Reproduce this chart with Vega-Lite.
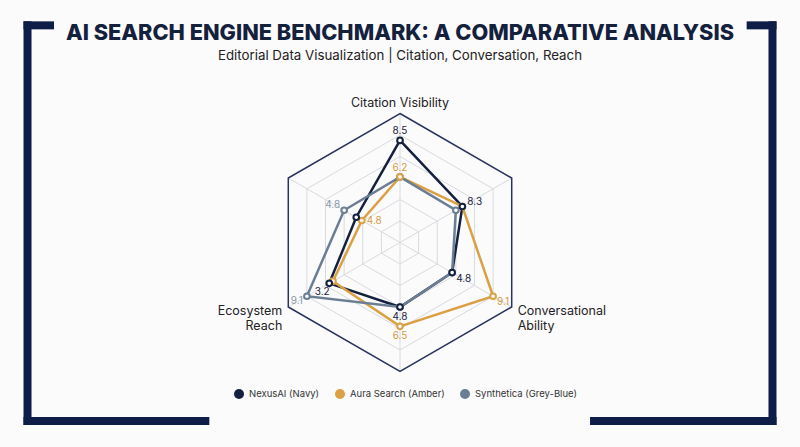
{
  "$schema": "https://vega.github.io/schema/vega-lite/v6.json",
  "width": 800,
  "height": 265,
  "autosize": {"type": "none"},
  "padding": {"top": 110, "bottom": 72, "left": 0, "right": 0},
  "background": "#fbfbfc",
  "title": {
    "text": "AI SEARCH ENGINE BENCHMARK: A COMPARATIVE ANALYSIS",
    "subtitle": "Editorial Data Visualization | Citation, Conversation, Reach",
    "anchor": "middle",
    "frame": "group",
    "font": "Inter",
    "fontSize": 21.75,
    "fontWeight": 800,
    "color": "#14213d",
    "subtitleFont": "Inter",
    "subtitleFontSize": 13.3,
    "subtitleColor": "#222222",
    "subtitlePadding": 5,
    "offset": -43
  },
  "datasets": {
    "scores": [
      {"series": "NexusAI (Navy)", "k": 0, "score": 9.5, "label": "8.5"},
      {"series": "NexusAI (Navy)", "k": 1, "score": 6.7, "label": "8.3"},
      {"series": "NexusAI (Navy)", "k": 2, "score": 5.6, "label": "4.8"},
      {"series": "NexusAI (Navy)", "k": 3, "score": 6.0, "label": "4.8"},
      {"series": "NexusAI (Navy)", "k": 4, "score": 7.6, "label": "3.2"},
      {"series": "NexusAI (Navy)", "k": 5, "score": 4.7, "label": null},
      {"series": "Aura Search (Amber)", "k": 0, "score": 6.1, "label": "6.2"},
      {"series": "Aura Search (Amber)", "k": 1, "score": 6.7, "label": null},
      {"series": "Aura Search (Amber)", "k": 2, "score": 10.0, "label": "9.1"},
      {"series": "Aura Search (Amber)", "k": 3, "score": 7.8, "label": "6.5"},
      {"series": "Aura Search (Amber)", "k": 4, "score": 7.2, "label": null},
      {"series": "Aura Search (Amber)", "k": 5, "score": 4.1, "label": "4.8"},
      {"series": "Synthetica (Grey-Blue)", "k": 0, "score": 6.1, "label": null},
      {"series": "Synthetica (Grey-Blue)", "k": 1, "score": 6.0, "label": null},
      {"series": "Synthetica (Grey-Blue)", "k": 2, "score": 5.6, "label": null},
      {"series": "Synthetica (Grey-Blue)", "k": 3, "score": 6.0, "label": null},
      {"series": "Synthetica (Grey-Blue)", "k": 4, "score": 10.0, "label": "9.1"},
      {"series": "Synthetica (Grey-Blue)", "k": 5, "score": 6.0, "label": "4.8"}
    ],
    "rings": [
      {"ring": 2, "k": [0, 1, 2, 3, 4, 5]},
      {"ring": 4, "k": [0, 1, 2, 3, 4, 5]},
      {"ring": 6, "k": [0, 1, 2, 3, 4, 5]},
      {"ring": 8, "k": [0, 1, 2, 3, 4, 5]},
      {"ring": 10, "k": [0, 1, 2, 3, 4, 5]},
      {"ring": 12, "k": [0, 1, 2, 3, 4, 5]}
    ],
    "spokes": [{"k": 0}, {"k": 1}, {"k": 2}, {"k": 3}, {"k": 4}, {"k": 5}],
    "axes": [
      {"k": 0, "name": "Citation Visibility"},
      {"k": 2, "name": ["Conversational", "Ability"]},
      {"k": 4, "name": ["Ecosystem", "Reach"]}
    ]
  },
  "layer": [
    {
      "data": {"name": "rings"},
      "transform": [
        {"flatten": ["k"]},
        {"filter": "datum.ring < 12"},
        {"calculate": "datum.ring * sin(datum.k * PI / 3)", "as": "x"},
        {"calculate": "datum.ring * cos(datum.k * PI / 3)", "as": "y"}
      ],
      "mark": {"type": "line", "interpolate": "linear-closed", "stroke": "#d8dade", "strokeWidth": 1},
      "encoding": {
        "x": {"field": "x", "type": "quantitative", "scale": {"domain": [-37.21, 37.21], "nice": false, "zero": false}, "axis": null},
        "y": {"field": "y", "type": "quantitative", "scale": {"domain": [-12.326, 12.326], "nice": false, "zero": false}, "axis": null},
        "detail": {"field": "ring"},
        "order": {"field": "k"}
      }
    },
    {
      "data": {"name": "spokes"},
      "transform": [
        {"calculate": "12 * sin(datum.k * PI / 3)", "as": "x"},
        {"calculate": "12 * cos(datum.k * PI / 3)", "as": "y"}
      ],
      "mark": {"type": "rule", "stroke": "#d8dade", "strokeWidth": 1},
      "encoding": {
        "x": {"field": "x", "type": "quantitative", "scale": {"domain": [-37.21, 37.21], "nice": false, "zero": false}, "axis": null},
        "y": {"field": "y", "type": "quantitative", "scale": {"domain": [-12.326, 12.326], "nice": false, "zero": false}, "axis": null},
        "x2": {"datum": 0},
        "y2": {"datum": 0}
      }
    },
    {
      "data": {"name": "rings"},
      "transform": [
        {"flatten": ["k"]},
        {"filter": "datum.ring == 12"},
        {"calculate": "datum.ring * sin(datum.k * PI / 3)", "as": "x"},
        {"calculate": "datum.ring * cos(datum.k * PI / 3)", "as": "y"}
      ],
      "mark": {"type": "line", "interpolate": "linear-closed", "stroke": "#2a335e", "strokeWidth": 1.5},
      "encoding": {
        "x": {"field": "x", "type": "quantitative", "scale": {"domain": [-37.21, 37.21], "nice": false, "zero": false}, "axis": null},
        "y": {"field": "y", "type": "quantitative", "scale": {"domain": [-12.326, 12.326], "nice": false, "zero": false}, "axis": null},
        "detail": {"field": "ring"},
        "order": {"field": "k"}
      }
    },
    {
      "data": {"name": "axes"},
      "transform": [
        {"filter": "datum.k == 0"},
        {"calculate": "12 * sin(datum.k * PI / 3)", "as": "x"},
        {"calculate": "12 * cos(datum.k * PI / 3)", "as": "y"}
      ],
      "mark": {"type": "text", "align": "center", "baseline": "alphabetic", "dy": -7, "font": "Inter", "fontSize": 12.5, "fill": "#222222"},
      "encoding": {
        "x": {"field": "x", "type": "quantitative", "scale": {"domain": [-37.21, 37.21], "nice": false, "zero": false}, "axis": null},
        "y": {"field": "y", "type": "quantitative", "scale": {"domain": [-12.326, 12.326], "nice": false, "zero": false}, "axis": null},
        "text": {"field": "name"}
      }
    },
    {
      "data": {"name": "axes"},
      "transform": [
        {"filter": "datum.k == 2"},
        {"calculate": "12 * sin(datum.k * PI / 3)", "as": "x"},
        {"calculate": "12 * cos(datum.k * PI / 3)", "as": "y"}
      ],
      "mark": {"type": "text", "align": "left", "baseline": "top", "dx": 6, "dy": -2, "lineHeight": 15, "font": "Inter", "fontSize": 12.5, "fill": "#222222"},
      "encoding": {
        "x": {"field": "x", "type": "quantitative", "scale": {"domain": [-37.21, 37.21], "nice": false, "zero": false}, "axis": null},
        "y": {"field": "y", "type": "quantitative", "scale": {"domain": [-12.326, 12.326], "nice": false, "zero": false}, "axis": null},
        "text": {"field": "name"}
      }
    },
    {
      "data": {"name": "axes"},
      "transform": [
        {"filter": "datum.k == 4"},
        {"calculate": "12 * sin(datum.k * PI / 3)", "as": "x"},
        {"calculate": "12 * cos(datum.k * PI / 3)", "as": "y"}
      ],
      "mark": {"type": "text", "align": "right", "baseline": "top", "dx": -6, "dy": -2, "lineHeight": 15, "font": "Inter", "fontSize": 12.5, "fill": "#222222"},
      "encoding": {
        "x": {"field": "x", "type": "quantitative", "scale": {"domain": [-37.21, 37.21], "nice": false, "zero": false}, "axis": null},
        "y": {"field": "y", "type": "quantitative", "scale": {"domain": [-12.326, 12.326], "nice": false, "zero": false}, "axis": null},
        "text": {"field": "name"}
      }
    },
    {
      "data": {"values": [{}]},
      "mark": {"type": "rule", "stroke": "#0e1c48", "strokeWidth": 8, "strokeCap": "square"},
      "encoding": {
        "x": {"datum": -34.65, "type": "quantitative", "scale": {"domain": [-37.21, 37.21], "nice": false, "zero": false}, "axis": null},
        "x2": {"datum": -32.56},
        "y": {"datum": 20.2, "type": "quantitative", "scale": {"domain": [-12.326, 12.326], "nice": false, "zero": false}, "axis": null},
        "y2": {"datum": 20.2}
      }
    },
    {
      "data": {"values": [{}]},
      "mark": {"type": "rule", "stroke": "#0e1c48", "strokeWidth": 8, "strokeCap": "square"},
      "encoding": {
        "x": {"datum": -34.65, "type": "quantitative", "scale": {"domain": [-37.21, 37.21], "nice": false, "zero": false}, "axis": null},
        "x2": {"datum": -34.65},
        "y": {"datum": 20.2, "type": "quantitative", "scale": {"domain": [-12.326, 12.326], "nice": false, "zero": false}, "axis": null},
        "y2": {"datum": -16.6}
      }
    },
    {
      "data": {"values": [{}]},
      "mark": {"type": "rule", "stroke": "#0e1c48", "strokeWidth": 8, "strokeCap": "square"},
      "encoding": {
        "x": {"datum": -34.65, "type": "quantitative", "scale": {"domain": [-37.21, 37.21], "nice": false, "zero": false}, "axis": null},
        "x2": {"datum": -18.11},
        "y": {"datum": -16.6, "type": "quantitative", "scale": {"domain": [-12.326, 12.326], "nice": false, "zero": false}, "axis": null},
        "y2": {"datum": -16.6}
      }
    },
    {
      "data": {"values": [{}]},
      "mark": {"type": "rule", "stroke": "#0e1c48", "strokeWidth": 8, "strokeCap": "square"},
      "encoding": {
        "x": {"datum": 32.62, "type": "quantitative", "scale": {"domain": [-37.21, 37.21], "nice": false, "zero": false}, "axis": null},
        "x2": {"datum": 34.65},
        "y": {"datum": 20.2, "type": "quantitative", "scale": {"domain": [-12.326, 12.326], "nice": false, "zero": false}, "axis": null},
        "y2": {"datum": 20.2}
      }
    },
    {
      "data": {"values": [{}]},
      "mark": {"type": "rule", "stroke": "#0e1c48", "strokeWidth": 8, "strokeCap": "square"},
      "encoding": {
        "x": {"datum": 34.65, "type": "quantitative", "scale": {"domain": [-37.21, 37.21], "nice": false, "zero": false}, "axis": null},
        "x2": {"datum": 34.65},
        "y": {"datum": 20.2, "type": "quantitative", "scale": {"domain": [-12.326, 12.326], "nice": false, "zero": false}, "axis": null},
        "y2": {"datum": -16.6}
      }
    },
    {
      "data": {"values": [{}]},
      "mark": {"type": "rule", "stroke": "#0e1c48", "strokeWidth": 8, "strokeCap": "square"},
      "encoding": {
        "x": {"datum": 18.05, "type": "quantitative", "scale": {"domain": [-37.21, 37.21], "nice": false, "zero": false}, "axis": null},
        "x2": {"datum": 34.65},
        "y": {"datum": -16.6, "type": "quantitative", "scale": {"domain": [-12.326, 12.326], "nice": false, "zero": false}, "axis": null},
        "y2": {"datum": -16.6}
      }
    },
    {
      "data": {"name": "scores"},
      "transform": [
        {"calculate": "datum.score * sin(datum.k * PI / 3)", "as": "x"},
        {"calculate": "datum.score * cos(datum.k * PI / 3)", "as": "y"}
      ],
      "mark": {"type": "line", "interpolate": "linear-closed", "strokeWidth": 2.5, "strokeJoin": "miter"},
      "encoding": {
        "x": {"field": "x", "type": "quantitative", "scale": {"domain": [-37.21, 37.21], "nice": false, "zero": false}, "axis": null},
        "y": {"field": "y", "type": "quantitative", "scale": {"domain": [-12.326, 12.326], "nice": false, "zero": false}, "axis": null},
        "order": {"field": "k"},
        "color": {
          "field": "series",
          "type": "nominal",
          "scale": {
            "domain": ["NexusAI (Navy)", "Aura Search (Amber)", "Synthetica (Grey-Blue)"],
            "range": ["#13203f", "#dca044", "#6b7e94"]
          },
          "legend": {
            "orient": "none",
            "legendX": 234,
            "legendY": 279,
            "direction": "horizontal",
            "title": null,
            "symbolType": "circle",
            "symbolSize": 100,
            "symbolStrokeWidth": 0,
            "labelFont": "Inter",
            "labelFontSize": 9.5,
            "labelColor": "#333333",
            "labelOffset": 5,
            "columnPadding": 15,
            "encode": {
              "symbols": {
                "update": {
                  "fill": {"scale": "color", "field": "value"},
                  "fillOpacity": {"value": 1},
                  "strokeWidth": {"value": 0}
                }
              }
            }
          }
        }
      }
    },
    {
      "data": {"name": "scores"},
      "transform": [
        {"calculate": "datum.score * sin(datum.k * PI / 3)", "as": "x"},
        {"calculate": "datum.score * cos(datum.k * PI / 3)", "as": "y"},
        {"calculate": "datum.series == 'NexusAI (Navy)' ? 2 : (datum.series == 'Aura Search (Amber)' ? 1 : 0)", "as": "z"}
      ],
      "mark": {"type": "point", "shape": "circle", "filled": true, "fill": "#ffffff", "size": 32, "strokeWidth": 2, "opacity": 1},
      "encoding": {
        "x": {"field": "x", "type": "quantitative", "scale": {"domain": [-37.21, 37.21], "nice": false, "zero": false}, "axis": null},
        "y": {"field": "y", "type": "quantitative", "scale": {"domain": [-12.326, 12.326], "nice": false, "zero": false}, "axis": null},
        "order": {"field": "z"},
        "stroke": {
          "field": "series",
          "type": "nominal",
          "scale": {
            "domain": ["NexusAI (Navy)", "Aura Search (Amber)", "Synthetica (Grey-Blue)"],
            "range": ["#13203f", "#dca044", "#6b7e94"]
          },
          "legend": null
        }
      }
    },
    {
      "data": {"name": "scores"},
      "transform": [
        {"filter": "datum.label != null && datum.k == 0"},
        {"calculate": "datum.score * sin(datum.k * PI / 3)", "as": "x"},
        {"calculate": "datum.score * cos(datum.k * PI / 3)", "as": "y"}
      ],
      "mark": {"type": "text", "align": "center", "baseline": "middle", "dy": -9, "font": "Inter", "fontSize": 10},
      "encoding": {
        "x": {"field": "x", "type": "quantitative", "scale": {"domain": [-37.21, 37.21], "nice": false, "zero": false}, "axis": null},
        "y": {"field": "y", "type": "quantitative", "scale": {"domain": [-12.326, 12.326], "nice": false, "zero": false}, "axis": null},
        "text": {"field": "label"},
        "fill": {"field": "series", "type": "nominal", "scale": {"domain": ["NexusAI (Navy)", "Aura Search (Amber)", "Synthetica (Grey-Blue)"], "range": ["#1a2340", "#d49b3f", "#8b98a8"]}, "legend": null}
      }
    },
    {
      "data": {"name": "scores"},
      "transform": [
        {"filter": "datum.label != null && datum.k == 1"},
        {"calculate": "datum.score * sin(datum.k * PI / 3)", "as": "x"},
        {"calculate": "datum.score * cos(datum.k * PI / 3)", "as": "y"}
      ],
      "mark": {"type": "text", "align": "left", "baseline": "middle", "dx": 5, "dy": -4, "font": "Inter", "fontSize": 10},
      "encoding": {
        "x": {"field": "x", "type": "quantitative", "scale": {"domain": [-37.21, 37.21], "nice": false, "zero": false}, "axis": null},
        "y": {"field": "y", "type": "quantitative", "scale": {"domain": [-12.326, 12.326], "nice": false, "zero": false}, "axis": null},
        "text": {"field": "label"},
        "fill": {"field": "series", "type": "nominal", "scale": {"domain": ["NexusAI (Navy)", "Aura Search (Amber)", "Synthetica (Grey-Blue)"], "range": ["#1a2340", "#d49b3f", "#8b98a8"]}, "legend": null}
      }
    },
    {
      "data": {"name": "scores"},
      "transform": [
        {"filter": "datum.label != null && datum.k == 5 && datum.series == 'Aura Search (Amber)'"},
        {"calculate": "datum.score * sin(datum.k * PI / 3)", "as": "x"},
        {"calculate": "datum.score * cos(datum.k * PI / 3)", "as": "y"}
      ],
      "mark": {"type": "text", "align": "left", "baseline": "middle", "dx": 5, "dy": 1, "font": "Inter", "fontSize": 10},
      "encoding": {
        "x": {"field": "x", "type": "quantitative", "scale": {"domain": [-37.21, 37.21], "nice": false, "zero": false}, "axis": null},
        "y": {"field": "y", "type": "quantitative", "scale": {"domain": [-12.326, 12.326], "nice": false, "zero": false}, "axis": null},
        "text": {"field": "label"},
        "fill": {"field": "series", "type": "nominal", "scale": {"domain": ["NexusAI (Navy)", "Aura Search (Amber)", "Synthetica (Grey-Blue)"], "range": ["#1a2340", "#d49b3f", "#8b98a8"]}, "legend": null}
      }
    },
    {
      "data": {"name": "scores"},
      "transform": [
        {"filter": "datum.label != null && datum.k == 5 && datum.series == 'Synthetica (Grey-Blue)'"},
        {"calculate": "datum.score * sin(datum.k * PI / 3)", "as": "x"},
        {"calculate": "datum.score * cos(datum.k * PI / 3)", "as": "y"}
      ],
      "mark": {"type": "text", "align": "right", "baseline": "middle", "dx": -4, "dy": -5, "font": "Inter", "fontSize": 10},
      "encoding": {
        "x": {"field": "x", "type": "quantitative", "scale": {"domain": [-37.21, 37.21], "nice": false, "zero": false}, "axis": null},
        "y": {"field": "y", "type": "quantitative", "scale": {"domain": [-12.326, 12.326], "nice": false, "zero": false}, "axis": null},
        "text": {"field": "label"},
        "fill": {"field": "series", "type": "nominal", "scale": {"domain": ["NexusAI (Navy)", "Aura Search (Amber)", "Synthetica (Grey-Blue)"], "range": ["#1a2340", "#d49b3f", "#8b98a8"]}, "legend": null}
      }
    },
    {
      "data": {"name": "scores"},
      "transform": [
        {"filter": "datum.label != null && datum.k == 2"},
        {"calculate": "datum.score * sin(datum.k * PI / 3)", "as": "x"},
        {"calculate": "datum.score * cos(datum.k * PI / 3)", "as": "y"}
      ],
      "mark": {"type": "text", "align": "left", "baseline": "middle", "dx": 4, "dy": 6, "font": "Inter", "fontSize": 10},
      "encoding": {
        "x": {"field": "x", "type": "quantitative", "scale": {"domain": [-37.21, 37.21], "nice": false, "zero": false}, "axis": null},
        "y": {"field": "y", "type": "quantitative", "scale": {"domain": [-12.326, 12.326], "nice": false, "zero": false}, "axis": null},
        "text": {"field": "label"},
        "fill": {"field": "series", "type": "nominal", "scale": {"domain": ["NexusAI (Navy)", "Aura Search (Amber)", "Synthetica (Grey-Blue)"], "range": ["#1a2340", "#d49b3f", "#8b98a8"]}, "legend": null}
      }
    },
    {
      "data": {"name": "scores"},
      "transform": [
        {"filter": "datum.label != null && datum.k == 3"},
        {"calculate": "datum.score * sin(datum.k * PI / 3)", "as": "x"},
        {"calculate": "datum.score * cos(datum.k * PI / 3)", "as": "y"}
      ],
      "mark": {"type": "text", "align": "center", "baseline": "middle", "dy": 10, "font": "Inter", "fontSize": 10},
      "encoding": {
        "x": {"field": "x", "type": "quantitative", "scale": {"domain": [-37.21, 37.21], "nice": false, "zero": false}, "axis": null},
        "y": {"field": "y", "type": "quantitative", "scale": {"domain": [-12.326, 12.326], "nice": false, "zero": false}, "axis": null},
        "text": {"field": "label"},
        "fill": {"field": "series", "type": "nominal", "scale": {"domain": ["NexusAI (Navy)", "Aura Search (Amber)", "Synthetica (Grey-Blue)"], "range": ["#1a2340", "#d49b3f", "#8b98a8"]}, "legend": null}
      }
    },
    {
      "data": {"name": "scores"},
      "transform": [
        {"filter": "datum.label != null && datum.k == 4 && datum.series == 'NexusAI (Navy)'"},
        {"calculate": "datum.score * sin(datum.k * PI / 3)", "as": "x"},
        {"calculate": "datum.score * cos(datum.k * PI / 3)", "as": "y"}
      ],
      "mark": {"type": "text", "align": "center", "baseline": "middle", "dx": -7, "dy": 9, "font": "Inter", "fontSize": 10},
      "encoding": {
        "x": {"field": "x", "type": "quantitative", "scale": {"domain": [-37.21, 37.21], "nice": false, "zero": false}, "axis": null},
        "y": {"field": "y", "type": "quantitative", "scale": {"domain": [-12.326, 12.326], "nice": false, "zero": false}, "axis": null},
        "text": {"field": "label"},
        "fill": {"field": "series", "type": "nominal", "scale": {"domain": ["NexusAI (Navy)", "Aura Search (Amber)", "Synthetica (Grey-Blue)"], "range": ["#1a2340", "#d49b3f", "#8b98a8"]}, "legend": null}
      }
    },
    {
      "data": {"name": "scores"},
      "transform": [
        {"filter": "datum.label != null && datum.k == 4 && datum.series == 'Synthetica (Grey-Blue)'"},
        {"calculate": "datum.score * sin(datum.k * PI / 3)", "as": "x"},
        {"calculate": "datum.score * cos(datum.k * PI / 3)", "as": "y"}
      ],
      "mark": {"type": "text", "align": "right", "baseline": "middle", "dx": -4, "dy": 5, "font": "Inter", "fontSize": 10},
      "encoding": {
        "x": {"field": "x", "type": "quantitative", "scale": {"domain": [-37.21, 37.21], "nice": false, "zero": false}, "axis": null},
        "y": {"field": "y", "type": "quantitative", "scale": {"domain": [-12.326, 12.326], "nice": false, "zero": false}, "axis": null},
        "text": {"field": "label"},
        "fill": {"field": "series", "type": "nominal", "scale": {"domain": ["NexusAI (Navy)", "Aura Search (Amber)", "Synthetica (Grey-Blue)"], "range": ["#1a2340", "#d49b3f", "#8b98a8"]}, "legend": null}
      }
    }
  ],
  "resolve": {"scale": {"fill": "independent"}},
  "config": {"view": {"stroke": null}}
}
